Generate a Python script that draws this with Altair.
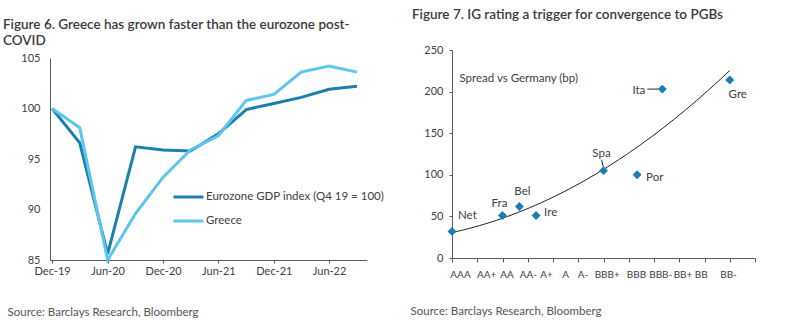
import altair as alt
import pandas as pd

# ---------------- Figure 6 data ----------------
quarters = ["2019-12-01", "2020-03-01", "2020-06-01", "2020-09-01", "2020-12-01", "2021-03-01",
            "2021-06-01", "2021-09-01", "2021-12-01", "2022-03-01", "2022-06-01", "2022-09-01"]
eurozone = [100.0, 96.6, 85.6, 96.2, 95.9, 95.8, 97.5, 99.9, 100.5, 101.1, 101.9, 102.2]
greece = [100.0, 98.1, 85.0, 89.6, 93.2, 95.9, 97.3, 100.8, 101.4, 103.6, 104.2, 103.6]
series_names = ["Eurozone GDP index (Q4 19 = 100)", "Greece"]
gdp_ticks = [85, 90, 95, 100, 105]
date_tick_ym = [(2019, 12), (2020, 6), (2020, 12), (2021, 6), (2021, 12), (2022, 6)]

# ---------------- Figure 7 data ----------------
ratings = ["AAA", "AA+", "AA", "AA-", "A+", "A", "A-", "BBB+", "BBB", "BBB-", "BB+", "BB", "BB-"]
countries = ["Net", "Fra", "Bel", "Ire", "Spa", "Por", "Ita", "Gre"]
rating_score = [0, 2, 2.67, 3.33, 6, 7.33, 8.33, 11]
spread_bp = [32, 51, 62, 51, 105, 100, 203, 214]
spread_ticks = [0, 50, 100, 150, 200, 250]

title6 = ["Figure 6. Greece has grown faster than the eurozone post-", "COVID"]
title7 = "Figure 7. IG rating a trigger for convergence to PGBs"
source = "Source: Barclays Research, Bloomberg"
y7_title = "Spread vs Germany (bp)"

FONT = "Lato"
TXT = "#404040"
AX = "#5a5a5a"

# horizontal nudges of the rating labels (style only), as in the reference
rating_label_nudge = [8, 9, 4, 0, -7, -13, -21, -22, -18, -19, -22, -29, -27]

# ---------------- Figure 6 ----------------
df6 = pd.DataFrame({
    "date": [q + "T00:00:00" for q in quarters] * 2,
    "value": eurozone + greece,
    "series": [series_names[0]] * len(quarters) + [series_names[1]] * len(quarters),
})

date_ticks = [alt.DateTime(year=y, month=m, date=1) for y, m in date_tick_ym]

LEFT_H = 210
LEFT_TOP_GAP = 8

left = alt.Chart(df6).mark_line(strokeWidth=3).encode(
    x=alt.X("date:T",
            scale=alt.Scale(domain=[alt.DateTime(year=2019, month=11, date=24),
                                    alt.DateTime(year=2022, month=10, date=4)]),
            axis=alt.Axis(values=date_ticks, format="%b-%y", grid=False, tickSize=3,
                          labelPadding=2, title=source, titleX=-43, titleY=52,
                          titleAlign="left", titleBaseline="middle", titleAnchor="start")),
    y=alt.Y("value:Q", scale=alt.Scale(domain=[85, 105], nice=False, zero=False,
                                       range=[LEFT_H, LEFT_TOP_GAP]),
            axis=alt.Axis(values=gdp_ticks, grid=False, ticks=False, labelPadding=10, title=None)),
    color=alt.Color("series:N", sort=series_names,
                    scale=alt.Scale(domain=series_names, range=["#1a7fad", "#5cc6ef"]),
                    legend=alt.Legend(orient="none", legendX=122, legendY=137, title=None,
                                      symbolType="stroke", symbolSize=900, symbolStrokeWidth=3,
                                      labelOffset=1, clipHeight=20, rowPadding=4, labelLimit=400,
                                      labelFontSize=11.5, labelColor=TXT, labelFont=FONT)),
).properties(
    width=317, height=LEFT_H,
    title=alt.Title(title6, anchor="start", frame="group", dx=-47, fontSize=13.5,
                    fontWeight=600, color="#3a3a3a", font=FONT, lineHeight=16, offset=3),
)

# ---------------- Figure 7 ----------------
df7 = pd.DataFrame({"country": countries, "score": rating_score, "spread": spread_bp})
label_expr = "[" + ",".join("'" + r + "'" for r in ratings) + "][datum.value]"
nudge_cond = {
    "condition": [{"test": f"datum.value == {i}", "value": v}
                  for i, v in enumerate(rating_label_nudge)],
    "value": 0,
}

xenc = alt.X("score:Q", scale=alt.Scale(domain=[0, 12], nice=False),
             axis=alt.Axis(values=list(range(len(ratings))), labelExpr=label_expr, grid=False,
                           tickSize=4, labelPadding=7, labelOverlap=False, labelFlush=False,
                           labelFontSize=10, labelOffset=nudge_cond, title=source,
                           titleX=-42, titleY=53, titleAlign="left", titleBaseline="middle",
                           titleAnchor="start"))
yenc = alt.Y("spread:Q", scale=alt.Scale(domain=[0, 250], nice=False),
             axis=alt.Axis(values=spread_ticks, grid=False, tickSize=3, labelPadding=6,
                           title=y7_title, titleAngle=0, titleX=7, titleY=28, titleAlign="left",
                           titleBaseline="middle", titleFontWeight="normal", titleFontSize=11.5,
                           titleColor=TXT))

base = alt.Chart(df7).encode(x=xenc, y=yenc)

trend = base.transform_regression("score", "spread", method="poly", order=2,
                                  extent=[0, 11]).mark_line(color="#222222", strokeWidth=1)
points = base.mark_point(shape="diamond", filled=True, size=80, color="#1b7db5", opacity=1)


def labels(names, align, dx, dy):
    return base.transform_filter(
        alt.FieldOneOfPredicate(field="country", oneOf=names)
    ).mark_text(align=align, baseline="middle", dx=dx, dy=dy, fontSize=11.5,
                font=FONT, color=TXT).encode(text="country:N")


lab_net = labels(["Net"], "left", 6, -15)
lab_fra = labels(["Fra"], "center", -3, -12)
lab_bel = labels(["Bel"], "center", 3, -14)
lab_ire = labels(["Ire"], "left", 8, -3)
lab_por = labels(["Por"], "left", 9, 3)
lab_spa = labels(["Spa"], "center", -2, -17)
lab_ita = labels(["Ita"], "right", -17, 2)
lab_gre = labels(["Gre"], "center", 8, 15)

lead_ita = base.transform_filter(alt.datum.country == "Ita").mark_rule(
    color="#222222", strokeWidth=1, xOffset=-15, x2Offset=-4).encode(x2="score:Q")
lead_spa = base.transform_filter(alt.datum.country == "Spa").mark_rule(
    color="#222222", strokeWidth=1, xOffset=-2, yOffset=-11, x2Offset=0, y2Offset=-3).encode(
    x2="score:Q", y2="spread:Q")

right = alt.layer(trend, lead_ita, lead_spa, points, lab_net, lab_fra, lab_bel,
                  lab_ire, lab_por, lab_spa, lab_ita, lab_gre).properties(
    width=303, height=208,
    title=alt.Title(title7, anchor="start", frame="group", dx=-40, fontSize=13.5,
                    fontWeight=600, color="#3a3a3a", font=FONT, offset=23),
)

chart = alt.hconcat(left, right, spacing=43).properties(
    padding={"left": 3, "top": 7, "right": 5, "bottom": 5}
).configure(font=FONT).configure_view(stroke=None).configure_axis(
    domainColor=AX, tickColor=AX, labelColor=TXT, labelFont=FONT, labelFontSize=11,
    titleFont=FONT, titleFontSize=11.5, titleFontWeight="normal", titleColor="#555555"
)

chart.save("out.html", embed_options={"renderer": "svg", "actions": False})
